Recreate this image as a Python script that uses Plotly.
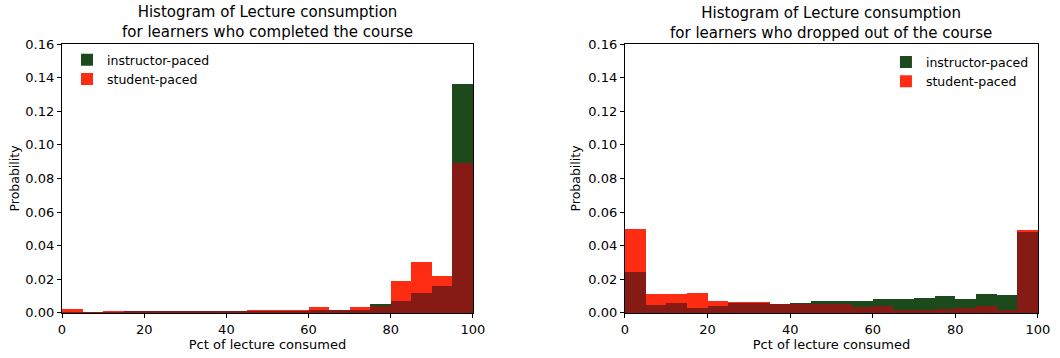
import plotly.graph_objects as go
import numpy as np

# Bin edges (percent of lecture consumed), 20 bins of width 5
bin_starts = [0, 5, 10, 15, 20, 25, 30, 35, 40, 45, 50, 55, 60, 65, 70, 75, 80, 85, 90, 95]
bin_width = 5

# Learners who completed the course
completed_instructor = [0.0005, 0.0002, 0.0005, 0.0006, 0.0007, 0.0007, 0.0008, 0.0009, 0.0010, 0.0010,
                        0.0012, 0.0014, 0.0015, 0.0018, 0.0020, 0.0055, 0.0070, 0.0120, 0.0160, 0.1360]
completed_student = [0.0025, 0.0002, 0.0007, 0.0008, 0.0008, 0.0008, 0.0009, 0.0010, 0.0011, 0.0015,
                     0.0015, 0.0015, 0.0035, 0.0020, 0.0035, 0.0040, 0.0190, 0.0300, 0.0220, 0.0890]

# Learners who dropped out of the course
dropped_instructor = [0.0245, 0.0047, 0.0056, 0.0027, 0.0043, 0.0060, 0.0056, 0.0050, 0.0056, 0.0068,
                      0.0072, 0.0072, 0.0083, 0.0083, 0.0089, 0.0103, 0.0085, 0.0110, 0.0105, 0.0480]
dropped_student = [0.0500, 0.0115, 0.0110, 0.0120, 0.0070, 0.0066, 0.0062, 0.0054, 0.0050, 0.0050,
                   0.0050, 0.0037, 0.0043, 0.0019, 0.0019, 0.0023, 0.0031, 0.0039, 0.0017, 0.0494]

titles = ["Histogram of Lecture consumption<br>for learners who completed the course",
          "Histogram of Lecture consumption<br>for learners who dropped out of the course"]
x_ticks = [0, 20, 40, 60, 80, 100]
y_ticks = [0.00, 0.02, 0.04, 0.06, 0.08, 0.10, 0.12, 0.14, 0.16]

GREEN = "#1d4a1d"
RED = "#ff2c14"
OVERLAP = "#861a14"
FONT = "DejaVu Sans"

fig = go.Figure()

x_centers = [s + bin_width / 2 for s in bin_starts]
panels = [
    (completed_instructor, completed_student, "x", "y", "legend"),
    (dropped_instructor, dropped_student, "x2", "y2", "legend2"),
]
for inst, stud, xa, ya, leg in panels:
    overlap = list(np.minimum(inst, stud))
    fig.add_trace(go.Bar(x=x_centers, y=inst, width=bin_width, marker=dict(color=GREEN, line=dict(width=0)),
                         name="instructor-paced", xaxis=xa, yaxis=ya, legend=leg))
    fig.add_trace(go.Bar(x=x_centers, y=stud, width=bin_width, marker=dict(color=RED, line=dict(width=0)),
                         name="student-paced", xaxis=xa, yaxis=ya, legend=leg))
    fig.add_trace(go.Bar(x=x_centers, y=overlap, width=bin_width, marker=dict(color=OVERLAP, line=dict(width=0)),
                         showlegend=False, xaxis=xa, yaxis=ya, hoverinfo="skip"))

axis_common = dict(showline=True, linecolor="black", linewidth=1.2, mirror=True, automargin=False,
                   ticks="outside", ticklen=4, tickcolor="black", showgrid=False, zeroline=False,
                   tickfont=dict(family=FONT, size=13, color="black"))

xdom1 = [0.0585, 0.4462]
xdom2 = [0.5896, 0.9792]
ydom = [0.126, 0.877]
fig.update_layout(
    width=1060, height=358,
    margin=dict(l=0, r=0, t=0, b=0),
    paper_bgcolor="white", plot_bgcolor="white",
    barmode="overlay", bargap=0,
    font=dict(family=FONT, color="black"),
    xaxis=dict(domain=xdom1, range=[0, 100], tickvals=x_ticks, anchor="y",
               title=dict(text="Pct of lecture consumed", font=dict(size=13), standoff=4), **axis_common),
    yaxis=dict(domain=ydom, range=[0, 0.16], tickvals=y_ticks, tickformat=".2f", anchor="x",
               title=dict(text="Probability", font=dict(size=12.5), standoff=2), **axis_common),
    xaxis2=dict(domain=xdom2, range=[0, 100], tickvals=x_ticks, anchor="y2",
                title=dict(text="Pct of lecture consumed", font=dict(size=13), standoff=4), **axis_common),
    yaxis2=dict(domain=ydom, range=[0, 0.16], tickvals=y_ticks, tickformat=".2f", anchor="x2",
                title=dict(text="Probability", font=dict(size=12.5), standoff=4), **axis_common),
    legend=dict(x=0.0632, y=0.874, xanchor="left", yanchor="top", bgcolor="rgba(0,0,0,0)",
                font=dict(family=FONT, size=12.5), traceorder="normal"),
    legend2=dict(x=0.8358, y=0.868, xanchor="left", yanchor="top", bgcolor="rgba(0,0,0,0)",
                 font=dict(family=FONT, size=12.5), traceorder="normal"),
    annotations=[
        dict(text=titles[0], x=sum(xdom1) / 2, y=0.880, xref="paper", yref="paper",
             xanchor="center", yanchor="bottom", showarrow=False, font=dict(family=FONT, size=15)),
        dict(text=titles[1], x=sum(xdom2) / 2, y=0.877, xref="paper", yref="paper",
             xanchor="center", yanchor="bottom", showarrow=False, font=dict(family=FONT, size=15)),
    ],
)

fig.write_html("out.html")
